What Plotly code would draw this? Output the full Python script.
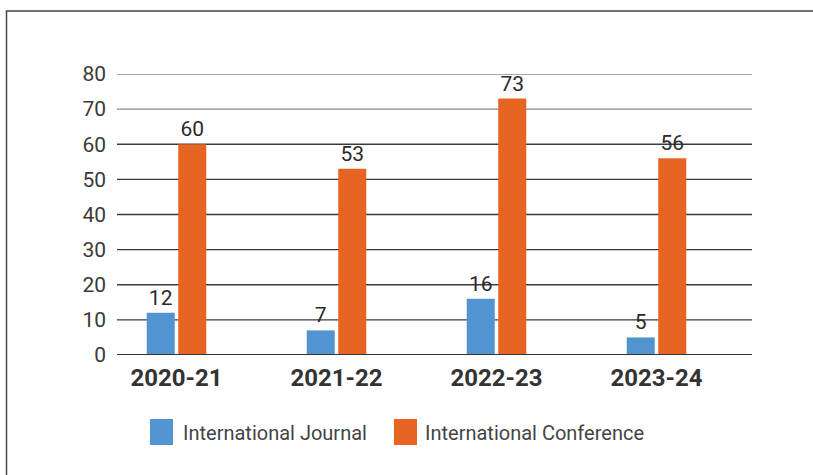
import plotly.graph_objects as go

# ---- data ----
years = ["2020-21", "2021-22", "2022-23", "2023-24"]
journal = [12, 7, 16, 5]
conference = [60, 53, 73, 56]
series_names = ["International Journal", "International Conference"]
colors = ["#5194D0", "#E66522"]
y_ticks = [0, 10, 20, 30, 40, 50, 60, 70, 80]

W, H = 813, 475
L, R, T, B = 117, 752, 74, 355  # plot area in pixels
CENTER0, STEP = 176.5, 160       # first category centre and spacing in pixels

def px_x(p):
    return (p - L) / (R - L)

def px_y(p):
    return (B - p) / (B - T)

fig = go.Figure()
for name, vals, col in zip(series_names, [journal, conference], colors):
    fig.add_trace(go.Bar(
        x=list(range(len(years))), y=vals, name=name,
        marker=dict(color=col, line=dict(width=0)),
        texttemplate="%{y}", textposition="outside",
        textfont=dict(family="Roboto", size=21, color="#2a2a2a"),
        constraintext="none", cliponaxis=False, showlegend=False,
    ))

shapes = []
for t in y_ticks:
    if t == 0:
        continue
    shapes.append(dict(type="line", xref="paper", yref="y", x0=0, x1=1, y0=t, y1=t,
                       line=dict(color="#8a8a8a" if t >= 70 else "#3a3a3a", width=1.3),
                       layer="below"))
# baseline
shapes.append(dict(type="line", xref="paper", yref="y", x0=0, x1=1, y0=0, y1=0,
                   line=dict(color="#333333", width=2.2), layer="above"))
# white strip at the right edge of the page
shapes.append(dict(type="rect", xref="paper", yref="paper",
                   x0=px_x(780), x1=px_x(W + 10), y0=px_y(H + 10), y1=px_y(-10),
                   fillcolor="white", line=dict(width=0), layer="above"))
# frame (top and left edges only; the others run off the page)
frame = dict(color="#444444", width=1.5)
shapes.append(dict(type="path", xref="paper", yref="paper",
                   path=f"M {px_x(6.5)},{px_y(H)} L {px_x(6.5)},{px_y(11)} L {px_x(W)},{px_y(11)}",
                   line=frame))

annotations = []
legend_items = [(150, 181), (394, 423)]
for (sx, tx), name, col in zip(legend_items, series_names, colors):
    shapes.append(dict(type="rect", xref="paper", yref="paper",
                       x0=px_x(sx), x1=px_x(sx + 23), y0=px_y(445), y1=px_y(419),
                       fillcolor=col, line=dict(width=0)))
    annotations.append(dict(xref="paper", yref="paper", x=px_x(tx), y=px_y(433),
                            xanchor="left", yanchor="middle", showarrow=False,
                            text=name, font=dict(family="Roboto", size=20, color="#444444")))

fig.update_layout(
    width=W, height=H,
    margin=dict(l=L, r=W - R, t=T, b=H - B, pad=0),
    plot_bgcolor="white", paper_bgcolor="white",
    barmode="group", bargap=0.606, bargroupgap=0.111,
    shapes=shapes, annotations=annotations, showlegend=False,
    xaxis=dict(
        range=[(L - CENTER0) / STEP, (R - CENTER0) / STEP],
        tickmode="array", tickvals=list(range(len(years))), ticktext=years,
        tickfont=dict(family="Roboto", size=24, color="#333333", weight="bold"),
        showgrid=False, zeroline=False, showline=False, ticks="",
        ticklabelstandoff=6,
    ),
    yaxis=dict(
        range=[0, 80], tickmode="array", tickvals=y_ticks,
        tickfont=dict(family="Roboto", size=21, color="#3a3a3a"),
        showgrid=False, zeroline=False, showline=False, ticks="",
        ticklabelstandoff=10,
    ),
)

fig.write_html("out.html", config={"displayModeBar": False, "staticPlot": True},
               post_script="document.body.style.margin='0';document.body.style.overflow='hidden';")
